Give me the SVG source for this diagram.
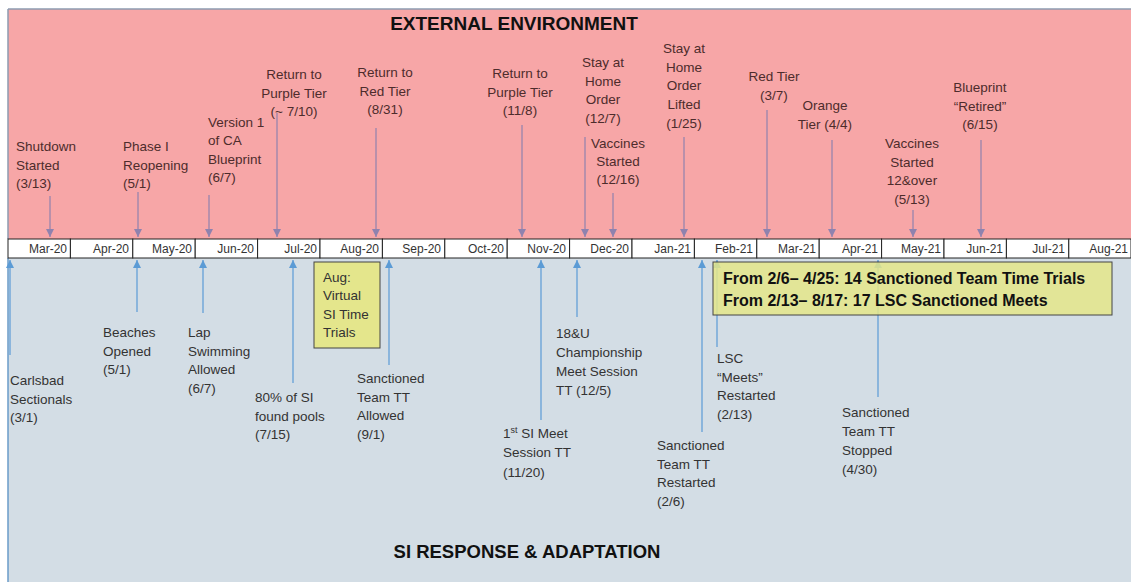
<svg xmlns="http://www.w3.org/2000/svg" width="1131" height="582" viewBox="0 0 1131 582">
<style>
.top{font-family:"Liberation Sans",Arial,sans-serif;font-size:13.5px;fill:#4d2c2c}
.bot{font-family:"Liberation Sans",Arial,sans-serif;font-size:13.5px;fill:#333}
.mid{text-anchor:middle}
.mon{font-family:"Liberation Sans",Arial,sans-serif;font-size:12px;fill:#333;text-anchor:end}
.hdr{font-family:"Liberation Sans",Arial,sans-serif;font-weight:bold;fill:#111}
.box{font-family:"Liberation Sans",Arial,sans-serif;font-weight:bold;font-size:16px;fill:#111}
.ta{stroke:#8f82ae;stroke-width:1.2;fill:none;marker-end:url(#mt)}
.ba{stroke:#5b9bd5;stroke-width:1.2;fill:none;marker-end:url(#mb)}
.cell{fill:#fff;stroke:#222;stroke-width:1}
</style>
<defs>
<marker id="mt" markerUnits="userSpaceOnUse" markerWidth="8" markerHeight="8" refX="8" refY="4" orient="auto"><path d="M0,0 L8,4 L0,8 z" fill="#8f82ae"/></marker>
<marker id="mb" markerUnits="userSpaceOnUse" markerWidth="8" markerHeight="8" refX="8" refY="4" orient="auto"><path d="M0,0 L8,4 L0,8 z" fill="#5b9bd5"/></marker>
</defs>
<rect x="0" y="0" width="1131" height="582" fill="#fff"/>
<rect id="external-panel" x="8" y="9" width="1123" height="230" fill="#f7a6a7"/>
<rect id="si-panel" x="8" y="258" width="1123" height="324" fill="#d3dde5"/>
<line x1="8" y1="9" x2="1131" y2="9" stroke="#8c9bb0" stroke-width="1.5"/>
<line x1="8" y1="9" x2="8" y2="239" stroke="#8c9bb0" stroke-width="1.5"/>
<line x1="8" y1="258" x2="8" y2="582" stroke="#6a9bc8" stroke-width="1.5"/>
<text class="hdr" x="514" y="30" font-size="19" text-anchor="middle">EXTERNAL ENVIRONMENT</text>
<text class="hdr" x="527" y="558" font-size="18.5" text-anchor="middle">SI RESPONSE &amp; ADAPTATION</text>

<g id="timeline-bar">
<rect class="cell" x="8" y="239" width="62.4" height="19"/>
<rect class="cell" x="70.4" y="239" width="62.4" height="19"/>
<rect class="cell" x="132.8" y="239" width="62.4" height="19"/>
<rect class="cell" x="195.2" y="239" width="62.4" height="19"/>
<rect class="cell" x="257.6" y="239" width="62.4" height="19"/>
<rect class="cell" x="320" y="239" width="62.4" height="19"/>
<rect class="cell" x="382.4" y="239" width="62.4" height="19"/>
<rect class="cell" x="444.8" y="239" width="62.4" height="19"/>
<rect class="cell" x="507.2" y="239" width="62.4" height="19"/>
<rect class="cell" x="569.6" y="239" width="62.4" height="19"/>
<rect class="cell" x="632" y="239" width="62.4" height="19"/>
<rect class="cell" x="694.4" y="239" width="62.4" height="19"/>
<rect class="cell" x="756.8" y="239" width="62.4" height="19"/>
<rect class="cell" x="819.2" y="239" width="62.4" height="19"/>
<rect class="cell" x="881.6" y="239" width="62.4" height="19"/>
<rect class="cell" x="944" y="239" width="62.4" height="19"/>
<rect class="cell" x="1006.4" y="239" width="62.4" height="19"/>
<rect class="cell" x="1068.8" y="239" width="62.2" height="19"/>
<text class="mon" x="67" y="253">Mar-20</text>
<text class="mon" x="129" y="253">Apr-20</text>
<text class="mon" x="192" y="253">May-20</text>
<text class="mon" x="254" y="253">Jun-20</text>
<text class="mon" x="317" y="253">Jul-20</text>
<text class="mon" x="379" y="253">Aug-20</text>
<text class="mon" x="441" y="253">Sep-20</text>
<text class="mon" x="504" y="253">Oct-20</text>
<text class="mon" x="566" y="253">Nov-20</text>
<text class="mon" x="629" y="253">Dec-20</text>
<text class="mon" x="691" y="253">Jan-21</text>
<text class="mon" x="753" y="253">Feb-21</text>
<text class="mon" x="816" y="253">Mar-21</text>
<text class="mon" x="878" y="253">Apr-21</text>
<text class="mon" x="941" y="253">May-21</text>
<text class="mon" x="1003" y="253">Jun-21</text>
<text class="mon" x="1065" y="253">Jul-21</text>
<text class="mon" x="1128" y="253">Aug-21</text>
</g>

<g id="connectors">
<line class="ta" x1="50" y1="196" x2="50" y2="237"/>
<line class="ta" x1="138" y1="192" x2="138" y2="237"/>
<line class="ta" x1="209" y1="195" x2="209" y2="237"/>
<line class="ta" x1="277" y1="113" x2="277" y2="237"/>
<line class="ta" x1="376" y1="128" x2="376" y2="237"/>
<line class="ta" x1="522" y1="125" x2="522" y2="237"/>
<line class="ta" x1="585" y1="137" x2="585" y2="237"/>
<line class="ta" x1="613" y1="193" x2="613" y2="237"/>
<line class="ta" x1="684" y1="137" x2="684" y2="237"/>
<line class="ta" x1="767" y1="110" x2="767" y2="237"/>
<line class="ta" x1="832" y1="140" x2="832" y2="237"/>
<line class="ta" x1="913" y1="210" x2="913" y2="237"/>
<line class="ta" x1="981" y1="140" x2="981" y2="237"/>
<line class="ba" x1="10" y1="355" x2="10" y2="260"/>
<line class="ba" x1="137" y1="312" x2="137" y2="260"/>
<line class="ba" x1="203" y1="313" x2="203" y2="260"/>
<line class="ba" x1="293" y1="383" x2="293" y2="260"/>
<line class="ba" x1="389" y1="365" x2="389" y2="260"/>
<line class="ba" x1="541" y1="420" x2="541" y2="260"/>
<line class="ba" x1="577" y1="317" x2="577" y2="260"/>
<line class="ba" x1="702" y1="432" x2="702" y2="260"/>
<line class="ba" x1="717" y1="347" x2="717" y2="260"/>
<line class="ba" x1="878" y1="397" x2="878" y2="260"/>
</g>

<g id="shutdown"><text class="top" x="16" y="151"><tspan x="16">Shutdown</tspan><tspan x="16" dy="18.5">Started</tspan><tspan x="16" dy="18.5">(3/13)</tspan></text></g>
<g id="phase1"><text class="top" x="123" y="151"><tspan x="123">Phase I</tspan><tspan x="123" dy="18.5">Reopening</tspan><tspan x="123" dy="18.5">(5/1)</tspan></text></g>
<g id="blueprint-v1"><text class="top" x="208" y="127"><tspan x="208">Version 1</tspan><tspan x="208" dy="18.3">of CA</tspan><tspan x="208" dy="18.3">Blueprint</tspan><tspan x="208" dy="18.3">(6/7)</tspan></text></g>
<g id="purple-jul"><text class="top mid" x="294" y="79"><tspan x="294">Return to</tspan><tspan x="294" dy="18.7">Purple Tier</tspan><tspan x="294" dy="18.7">(~ 7/10)</tspan></text></g>
<g id="red-aug"><text class="top mid" x="385" y="77"><tspan x="385">Return to</tspan><tspan x="385" dy="18.7">Red Tier</tspan><tspan x="385" dy="18.7">(8/31)</tspan></text></g>
<g id="purple-nov"><text class="top mid" x="520" y="78"><tspan x="520">Return to</tspan><tspan x="520" dy="18.7">Purple Tier</tspan><tspan x="520" dy="18.7">(11/8)</tspan></text></g>
<g id="stay-home"><text class="top mid" x="603" y="67"><tspan x="603">Stay at</tspan><tspan x="603" dy="18.7">Home</tspan><tspan x="603" dy="18.7">Order</tspan><tspan x="603" dy="18.7">(12/7)</tspan></text></g>
<g id="vaccines-dec"><text class="top mid" x="618" y="148"><tspan x="618">Vaccines</tspan><tspan x="618" dy="18">Started</tspan><tspan x="618" dy="18">(12/16)</tspan></text></g>
<g id="stay-home-lifted"><text class="top mid" x="684" y="53"><tspan x="684">Stay at</tspan><tspan x="684" dy="18.7">Home</tspan><tspan x="684" dy="18.7">Order</tspan><tspan x="684" dy="18.7">Lifted</tspan><tspan x="684" dy="18.7">(1/25)</tspan></text></g>
<g id="red-mar"><text class="top mid" x="774" y="81"><tspan x="774">Red Tier</tspan><tspan x="774" dy="19">(3/7)</tspan></text></g>
<g id="orange-apr"><text class="top mid" x="825" y="110"><tspan x="825">Orange</tspan><tspan x="825" dy="18.5">Tier (4/4)</tspan></text></g>
<g id="vaccines-12"><text class="top mid" x="912" y="148"><tspan x="912">Vaccines</tspan><tspan x="912" dy="18.7">Started</tspan><tspan x="912" dy="18.7">12&amp;over</tspan><tspan x="912" dy="18.7">(5/13)</tspan></text></g>
<g id="blueprint-retired"><text class="top mid" x="980" y="92"><tspan x="980">Blueprint</tspan><tspan x="980" dy="18.7">“Retired”</tspan><tspan x="980" dy="18.7">(6/15)</tspan></text></g>

<g id="carlsbad"><text class="bot" x="10" y="385"><tspan x="10">Carlsbad</tspan><tspan x="10" dy="18.5">Sectionals</tspan><tspan x="10" dy="18.5">(3/1)</tspan></text></g>
<g id="beaches"><text class="bot" x="103" y="337"><tspan x="103">Beaches</tspan><tspan x="103" dy="18.5">Opened</tspan><tspan x="103" dy="18.5">(5/1)</tspan></text></g>
<g id="lap-swimming"><text class="bot" x="188" y="337"><tspan x="188">Lap</tspan><tspan x="188" dy="18.5">Swimming</tspan><tspan x="188" dy="18.5">Allowed</tspan><tspan x="188" dy="18.5">(6/7)</tspan></text></g>
<g id="pools"><text class="bot" x="255" y="402"><tspan x="255">80% of SI</tspan><tspan x="255" dy="18.7">found pools</tspan><tspan x="255" dy="18.7">(7/15)</tspan></text></g>
<g id="virtual-tt"><rect x="314" y="262" width="66" height="86" fill="#e4e68c" stroke="#444" stroke-width="1"/><text class="bot" x="323" y="282"><tspan x="323">Aug:</tspan><tspan x="323" dy="18.3">Virtual</tspan><tspan x="323" dy="18.3">SI Time</tspan><tspan x="323" dy="18.3">Trials</tspan></text></g>
<g id="team-tt-allowed"><text class="bot" x="357" y="383"><tspan x="357">Sanctioned</tspan><tspan x="357" dy="18.7">Team TT</tspan><tspan x="357" dy="18.7">Allowed</tspan><tspan x="357" dy="18.7">(9/1)</tspan></text></g>
<g id="first-meet"><text class="bot" x="503" y="438"><tspan x="503">1</tspan><tspan dy="-5" font-size="9">st</tspan><tspan dy="5"> SI Meet</tspan><tspan x="503" dy="19.3">Session TT</tspan><tspan x="503" dy="19.3">(11/20)</tspan></text></g>
<g id="champ-18u"><text class="bot" x="556" y="338"><tspan x="556">18&amp;U</tspan><tspan x="556" dy="19">Championship</tspan><tspan x="556" dy="19">Meet Session</tspan><tspan x="556" dy="19">TT (12/5)</tspan></text></g>
<g id="team-tt-restarted"><text class="bot" x="657" y="450"><tspan x="657">Sanctioned</tspan><tspan x="657" dy="18.7">Team TT</tspan><tspan x="657" dy="18.7">Restarted</tspan><tspan x="657" dy="18.7">(2/6)</tspan></text></g>
<g id="lsc-meets"><text class="bot" x="717" y="363"><tspan x="717">LSC</tspan><tspan x="717" dy="18.7">“Meets”</tspan><tspan x="717" dy="18.7">Restarted</tspan><tspan x="717" dy="18.7">(2/13)</tspan></text></g>
<g id="team-tt-stopped"><text class="bot" x="842" y="417"><tspan x="842">Sanctioned</tspan><tspan x="842" dy="18.9">Team TT</tspan><tspan x="842" dy="18.9">Stopped</tspan><tspan x="842" dy="18.9">(4/30)</tspan></text></g>
<g id="summary-box"><rect x="713" y="262" width="399" height="53" fill="#e4e68a" fill-opacity="0.85" stroke="#444" stroke-width="1"/><text class="box" x="723" y="284"><tspan x="723">From 2/6– 4/25: 14 Sanctioned Team Time Trials</tspan><tspan x="723" dy="21.5">From 2/13– 8/17: 17 LSC Sanctioned Meets</tspan></text></g>
</svg>
